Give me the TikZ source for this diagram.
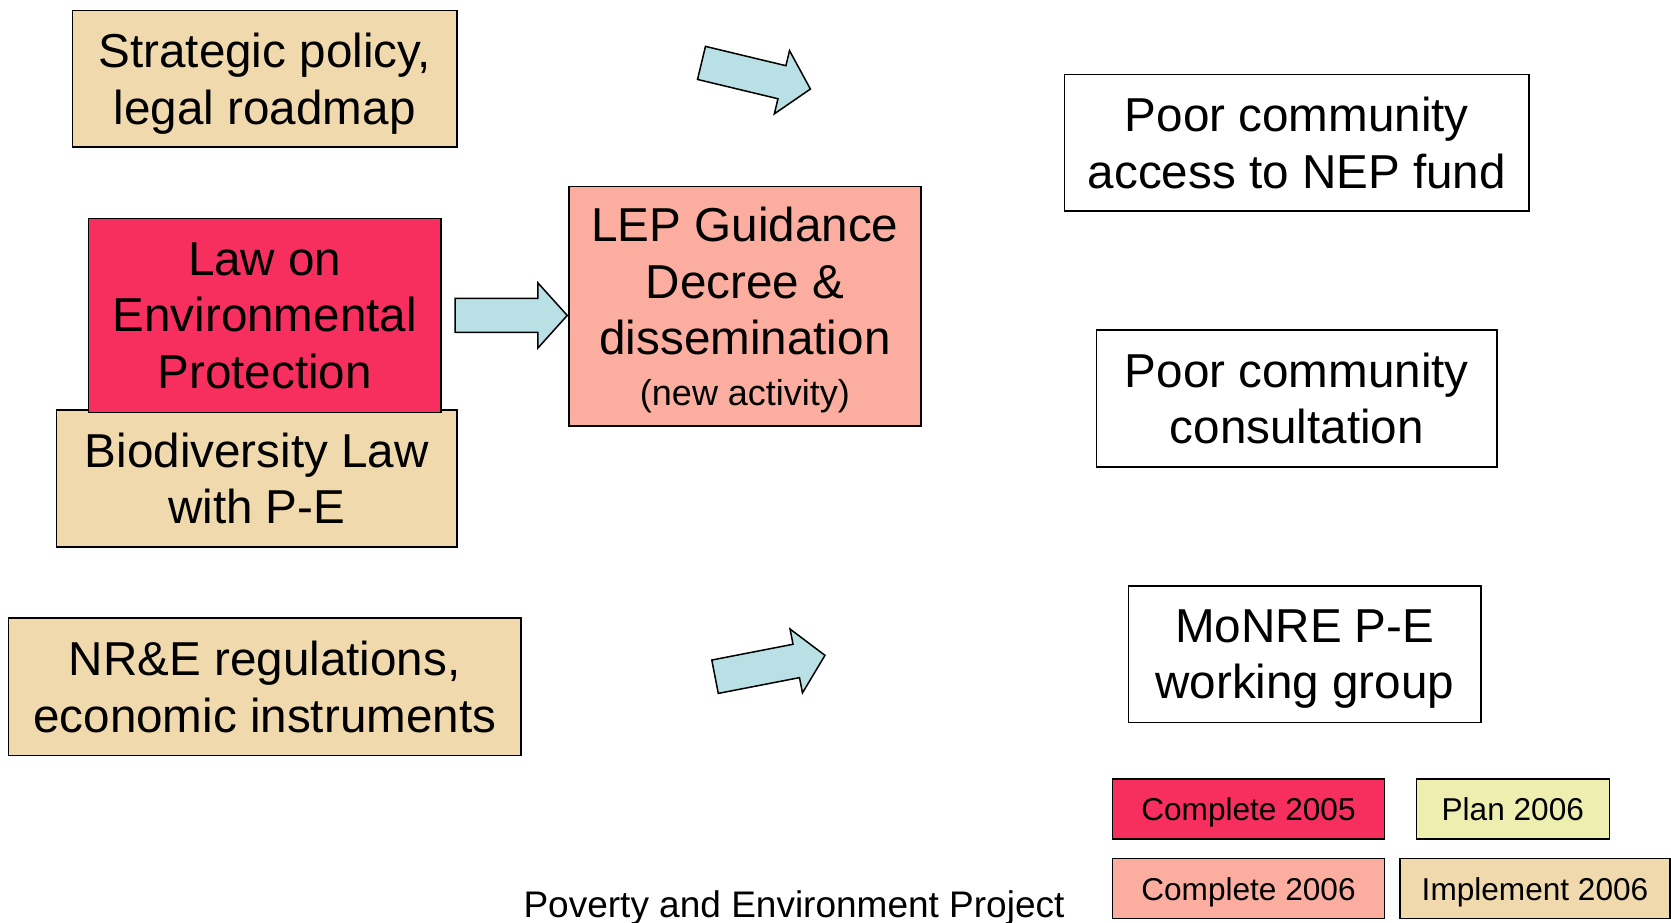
\documentclass[tikz,border=0pt]{standalone}
\usepackage{fontspec}
\setmainfont{Liberation Sans}
\usetikzlibrary{shapes.arrows}
\definecolor{implcol}{RGB}{240,217,172}
\definecolor{donecol}{RGB}{247,47,95}
\definecolor{newcol}{RGB}{251,174,160}
\definecolor{plancol}{RGB}{238,238,176}
\definecolor{arrowcol}{RGB}{185,224,228}
\begin{document}
\begin{tikzpicture}[x=1pt,y=-1pt,
        box/.style={draw,line width=1.5pt,inner sep=0pt,align=center,text depth=0pt,
            font=\fontsize{47.6}{56.5}\selectfont},
        keybox/.style={box,minimum height=60pt,font=\fontsize{31.6}{36}\selectfont},
        blockarrow/.style={single arrow,draw,line width=1.5pt,fill=arrowcol,
            inner xsep=0pt,inner ysep=16.25pt,
            minimum width=63.4pt,minimum height=112pt,
            single arrow head extend=15.5pt,single arrow tip angle=96}]
                        \useasboundingbox (0,0) rectangle (1671,923);
                        \node[box,fill=implcol,minimum width=384.5pt,minimum height=136.3pt] (strategy) at (264.75,78.85)
                            {Strategic policy,\\legal roadmap};
                        \node[box,fill=implcol,minimum width=400.5pt,minimum height=137pt] (biodiv) at (256.75,478.5)
                            {Biodiversity Law\\with P-E};
                        \node[box,fill=donecol,minimum width=352.5pt,minimum height=193.9pt] (lawep) at (264.75,315.45)
                            {Law on\\Environmental\\Protection};
                        \node[box,fill=implcol,minimum width=512.5pt,minimum height=137.6pt] (nre) at (264.75,686.8)
                            {NR\&E regulations,\\economic instruments};
                        \node[box,fill=newcol,minimum width=352pt,minimum height=239.5pt] (lep) at (745,306.25)
                            {LEP Guidance\\Decree \&\\dissemination\\[-6pt]{\fontsize{36}{40}\selectfont (new activity)}};
                        \node[box,minimum width=464.4pt,minimum height=136.4pt] (access) at (1296.8,142.8)
                            {Poor community\\access to NEP fund};
                        \node[box,minimum width=400.4pt,minimum height=136.8pt] (consult) at (1296.8,398.4)
                            {Poor community\\consultation};
                        \node[box,minimum width=352.4pt,minimum height=136.6pt] (monre) at (1304.8,654.3)
                            {MoNRE P-E\\working group};
                        \node[blockarrow,rotate=-13.5] (toparrow) at (748.5,74.2) {};
                        \node[blockarrow,anchor=tip] (midarrow) at (lawep.east -| lep.west) {};
                        \node[blockarrow,rotate=11] (lowarrow) at (762.5,667.5) {};
                        \node[keybox,fill=donecol,minimum width=271.7pt] (key05) at (1248.5,808.8) {Complete 2005};
                        \node[keybox,fill=plancol,minimum width=192.9pt] (keyplan) at (1512.8,808.8) {Plan 2006};
                        \node[keybox,fill=newcol,minimum width=271.7pt] (key06) at (1248.5,888.6) {Complete 2006};
                        \node[keybox,fill=implcol,minimum width=269.7pt] (keyimpl) at (1535,888.6) {Implement 2006};
                        \node[anchor=base,inner sep=0pt,font=\fontsize{37}{40}\selectfont] (footer) at (794,917)
                            {Poverty and Environment Project};
                    \end{tikzpicture}
\end{document}
